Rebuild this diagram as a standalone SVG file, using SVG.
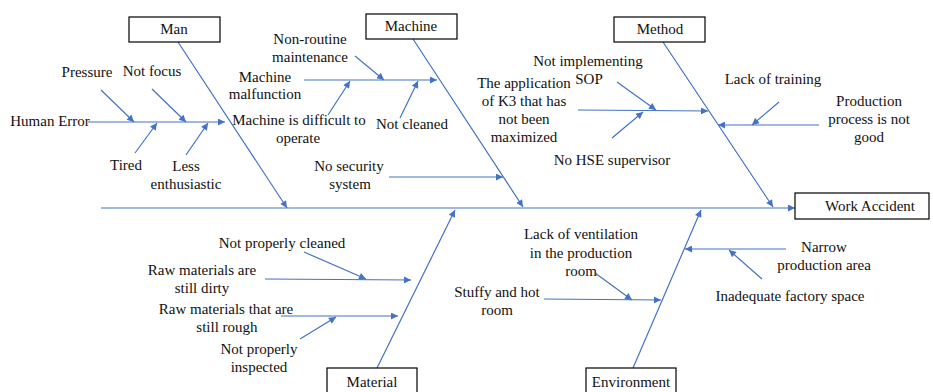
<svg xmlns="http://www.w3.org/2000/svg" width="933" height="392" viewBox="0 0 933 392" font-family="'Liberation Serif', 'Times New Roman', 'DejaVu Serif', serif">
<defs>
<marker id="ah" viewBox="0 0 10 10" refX="10" refY="5" markerWidth="8" markerHeight="7" markerUnits="userSpaceOnUse" orient="auto">
<path d="M0,0 L10,5 L0,10 z" fill="#4472C4"/>
</marker>
<style>
.ln{stroke:#4472C4;stroke-width:1.2;fill:none}
.ar{stroke:#4472C4;stroke-width:1.2;fill:none;marker-end:url(#ah)}
.bx{fill:#fff;stroke:#000;stroke-width:1.2}
text{font-family:'Liberation Serif','Times New Roman','DejaVu Serif',serif;font-size:15px;fill:#111;text-anchor:middle}
</style>
</defs>
<rect width="933" height="392" fill="#fff"/>
<g id="connectors">
<line class="ar" x1="101" y1="208" x2="795" y2="208"/>
<line class="ar" x1="178" y1="42" x2="287" y2="208"/>
<line class="ar" x1="413" y1="39" x2="523" y2="207"/>
<line class="ar" x1="663" y1="42" x2="773" y2="207"/>
<line class="ar" x1="377" y1="368" x2="455" y2="210"/>
<line class="ar" x1="633" y1="368" x2="701" y2="210"/>
<line class="ar" x1="88" y1="122" x2="225" y2="122"/>
<line class="ar" x1="101" y1="90" x2="134" y2="122"/>
<line class="ar" x1="152" y1="89" x2="186" y2="122"/>
<line class="ar" x1="135" y1="153" x2="157" y2="123"/>
<line class="ar" x1="186" y1="155" x2="208" y2="123"/>
<line class="ar" x1="304" y1="80" x2="437" y2="80"/>
<line class="ar" x1="355" y1="56" x2="384" y2="80"/>
<line class="ar" x1="328" y1="115" x2="350" y2="81"/>
<line class="ar" x1="400" y1="118" x2="418" y2="81"/>
<line class="ar" x1="389" y1="177" x2="503" y2="177"/>
<line class="ar" x1="578" y1="110" x2="708" y2="111"/>
<line class="ar" x1="617" y1="82" x2="656" y2="110"/>
<line class="ar" x1="612" y1="138" x2="643" y2="112"/>
<line class="ar" x1="819" y1="125" x2="718" y2="125"/>
<line class="ar" x1="779" y1="102" x2="752" y2="125"/>
<line class="ar" x1="265" y1="279" x2="411" y2="280"/>
<line class="ar" x1="304" y1="252" x2="366" y2="279"/>
<line class="ar" x1="281" y1="316" x2="398" y2="316"/>
<line class="ar" x1="300" y1="339" x2="336" y2="317"/>
<line class="ar" x1="544" y1="299" x2="661" y2="300"/>
<line class="ar" x1="595" y1="273" x2="632" y2="300"/>
<line class="ar" x1="786" y1="249" x2="685" y2="249"/>
<line class="ar" x1="762" y1="279" x2="729" y2="250"/>
</g>
<g id="work-accident"><rect class="bx" x="795" y="193" width="134" height="26"/><text x="870" y="211">Work Accident</text></g>
<g id="man"><rect class="bx" x="129" y="17" width="91" height="25"/><text x="174" y="34">Man</text></g>
<g id="machine"><rect class="bx" x="366" y="14" width="91" height="25"/><text x="411" y="31">Machine</text></g>
<g id="method"><rect class="bx" x="614" y="17" width="91" height="25"/><text x="660" y="34">Method</text></g>
<g id="material"><rect class="bx" x="327" y="368" width="90" height="28"/><text x="372" y="387">Material</text></g>
<g id="environment"><rect class="bx" x="586" y="368" width="90" height="28"/><text x="631" y="387">Environment</text></g>
<g id="man-causes">
<text x="50" y="126">Human Error</text>
<text x="87" y="77">Pressure</text>
<text x="152" y="76">Not focus</text>
<text x="126" y="170">Tired</text>
<text x="186" y="171">Less</text>
<text x="186" y="189">enthusiastic</text>
</g>
<g id="machine-causes">
<text x="265" y="82">Machine</text>
<text x="265" y="99">malfunction</text>
<text x="310" y="44">Non-routine</text>
<text x="310" y="62">maintenance</text>
<text x="299" y="125">Machine is difficult to</text>
<text x="298" y="143">operate</text>
<text x="412" y="129">Not cleaned</text>
<text x="349" y="171">No security</text>
<text x="350" y="189">system</text>
</g>
<g id="method-causes">
<text x="588" y="66">Not implementing</text>
<text x="589" y="84">SOP</text>
<text x="524" y="88">The application</text>
<text x="524" y="106">of K3 that has</text>
<text x="524" y="124">not been</text>
<text x="524" y="142">maximized</text>
<text x="612" y="165">No HSE supervisor</text>
<text x="773" y="84">Lack of training</text>
<text x="869" y="106">Production</text>
<text x="869" y="124">process is not</text>
<text x="869" y="142">good</text>
</g>
<g id="material-causes">
<text x="282" y="248">Not properly cleaned</text>
<text x="202" y="275">Raw materials are</text>
<text x="202" y="293">still dirty</text>
<text x="226" y="314">Raw materials that are</text>
<text x="227" y="332">still rough</text>
<text x="259" y="354">Not properly</text>
<text x="259" y="372">inspected</text>
</g>
<g id="environment-causes">
<text x="581" y="239">Lack of ventilation</text>
<text x="581" y="258">in the production</text>
<text x="581" y="276">room</text>
<text x="497" y="297">Stuffy and hot</text>
<text x="497" y="315">room</text>
<text x="824" y="252">Narrow</text>
<text x="824" y="270">production area</text>
<text x="790" y="301">Inadequate factory space</text>
</g>
</svg>
